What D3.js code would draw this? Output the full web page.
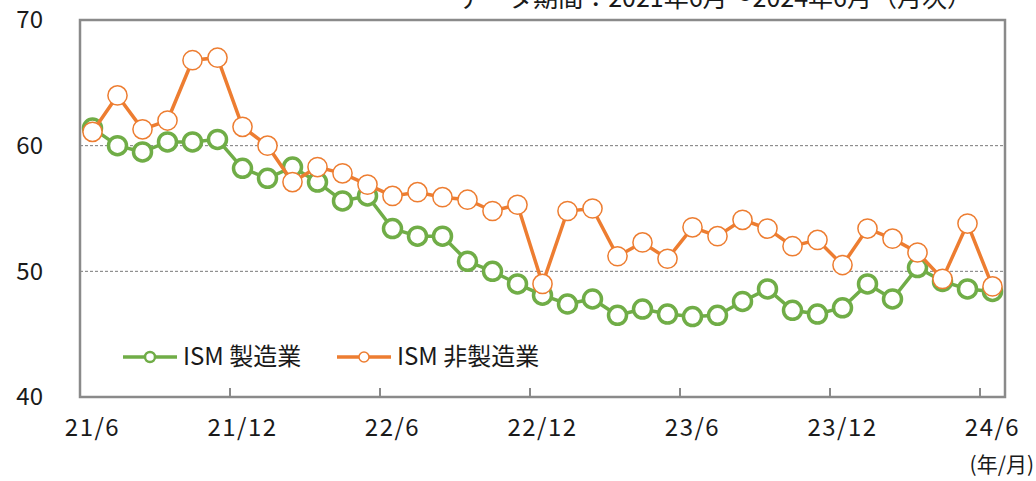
<!DOCTYPE html>
<html>
<head>
<meta charset="utf-8">
<script src="https://cdn.jsdelivr.net/npm/d3@7"></script>
<style>
  body { margin: 0; background: #fff; }
  text { font-family: "Noto Sans CJK JP", "Noto Sans", sans-serif; fill: #1a1a1a; }
</style>
</head>
<body>
<div id="chart"></div>
<script>
var months = [
  "21/6", "21/7", "21/8", "21/9", "21/10", "21/11", "21/12",
  "22/1", "22/2", "22/3", "22/4", "22/5", "22/6", "22/7", "22/8", "22/9", "22/10", "22/11", "22/12",
  "23/1", "23/2", "23/3", "23/4", "23/5", "23/6", "23/7", "23/8", "23/9", "23/10", "23/11", "23/12",
  "24/1", "24/2", "24/3", "24/4", "24/5", "24/6"
];
var tickLabels = ["21/6", "21/12", "22/6", "22/12", "23/6", "23/12", "24/6"];
var yTicks = [40, 50, 60, 70];
var gridValues = [50, 60];

// ISM 製造業
var manufacturing = [
  61.4, 60.0, 59.5, 60.3, 60.3, 60.5, 58.2, 57.4, 58.3, 57.1, 55.6, 56.0,
  53.4, 52.8, 52.8, 50.8, 50.0, 49.0, 48.1, 47.4, 47.8, 46.5, 47.0, 46.6,
  46.4, 46.5, 47.6, 48.6, 46.9, 46.6, 47.1, 49.0, 47.8, 50.3, 49.2, 48.6, 48.4
];
// ISM 非製造業
var services = [
  61.1, 64.0, 61.3, 62.0, 66.8, 67.0, 61.5, 60.0, 57.1, 58.3, 57.8, 56.9,
  56.0, 56.3, 55.9, 55.7, 54.8, 55.3, 49.0, 54.8, 55.0, 51.2, 52.3, 51.0,
  53.5, 52.8, 54.1, 53.4, 52.0, 52.5, 50.5, 53.4, 52.6, 51.5, 49.4, 53.8, 48.8
];

var width = 1036, height = 481;
var plot = { left: 80, right: 1005, top: 20, bottom: 397 };

var svg = d3
  .select("#chart")
  .append("svg")
  .attr("width", width)
  .attr("height", height);

var x = d3.scaleBand().domain(months).range([plot.left, plot.right]).padding(0);
var y = d3.scaleLinear().domain([40, 70]).range([plot.bottom, plot.top]);

// note at top (clipped by the page edge, as in the source)
svg
  .append("text")
  .attr("x", 972)
  .attr("y", 7)
  .attr("text-anchor", "end")
  .style("font-size", "25px")
  .text("データ期間：2021年6月～2024年6月（月次）");

// grid lines
svg
  .selectAll(".grid")
  .data(gridValues)
  .enter()
  .append("line")
  .attr("class", "grid")
  .attr("x1", plot.left)
  .attr("x2", plot.right)
  .attr("y1", (d) => y(d))
  .attr("y2", (d) => y(d))
  .style("stroke", "#7a7a7a")
  .style("stroke-width", 1)
  .style("stroke-dasharray", "3,2");

// y labels
var yAxis = d3.axisLeft(y).tickValues(yTicks).tickSize(0).tickPadding(37);
var gy = svg
  .append("g")
  .attr("transform", "translate(" + plot.left + ",0)")
  .call(yAxis);
gy.select(".domain").remove();
gy.selectAll("text")
  .style("font-size", "24px")
  .style("font-family", "'Noto Sans CJK JP', sans-serif")
  .attr("fill", "#1a1a1a");

// x labels at the month centres
var xAxis = d3.axisBottom(x).tickValues(tickLabels).tickSize(0).tickPadding(22);
var gx = svg
  .append("g")
  .attr("transform", "translate(0," + plot.bottom + ")")
  .call(xAxis);
gx.select(".domain").remove();
gx.selectAll("text")
  .style("font-size", "24px")
  .style("font-family", "'Noto Sans CJK JP', sans-serif")
  .style("letter-spacing", "1.5px")
  .attr("fill", "#1a1a1a");

// tick marks on the month boundaries
svg
  .selectAll(".tickmark")
  .data(tickLabels.slice(1))
  .enter()
  .append("line")
  .attr("class", "tickmark")
  .attr("x1", (d) => x(d))
  .attr("x2", (d) => x(d))
  .attr("y1", plot.bottom)
  .attr("y2", plot.bottom - 9)
  .style("stroke", "#8a8a8a")
  .style("stroke-width", 2);

svg
  .append("text")
  .attr("x", 1034)
  .attr("y", 472)
  .attr("text-anchor", "end")
  .style("font-size", "21px")
  .text("(年/月)");

// plot frame
svg
  .append("rect")
  .attr("x", plot.left)
  .attr("y", plot.top)
  .attr("width", plot.right - plot.left)
  .attr("height", plot.bottom - plot.top)
  .style("fill", "none")
  .style("stroke", "#8a8a8a")
  .style("stroke-width", 2.5);

var line = d3
  .line()
  .x((d, i) => x(months[i]) + x.bandwidth() / 2)
  .y((d) => y(d));

function drawSeries(values, color, markerStroke, r) {
  var g = svg.append("g");
  g.append("path")
    .datum(values)
    .attr("d", line)
    .style("fill", "none")
    .style("stroke", color)
    .style("stroke-width", 3.5);
  g.selectAll("circle")
    .data(values)
    .enter()
    .append("circle")
    .attr("cx", (d, i) => x(months[i]) + x.bandwidth() / 2)
    .attr("cy", (d) => y(d))
    .attr("r", r)
    .style("fill", "#fff")
    .style("stroke", color)
    .style("stroke-width", markerStroke);
}

drawSeries(manufacturing, "#70ad47", 3.5, 9);
drawSeries(services, "#ed7d31", 1.5, 9.6);

// legend
var legendItems = [
  { name: "ISM 製造業", color: "#70ad47", sw: 2.5, x: 123 },
  { name: "ISM 非製造業", color: "#ed7d31", sw: 1.5, x: 337 }
];
var legend = svg.append("g").attr("class", "legend");
legendItems.forEach(function (d) {
  legend
    .append("line")
    .attr("x1", d.x)
    .attr("x2", d.x + 54)
    .attr("y1", 357)
    .attr("y2", 357)
    .style("stroke", d.color)
    .style("stroke-width", 3.5);
  legend
    .append("circle")
    .attr("cx", d.x + 27)
    .attr("cy", 357)
    .attr("r", 5)
    .style("fill", "#fff")
    .style("stroke", d.color)
    .style("stroke-width", d.sw);
  legend
    .append("text")
    .attr("x", d.x + 60)
    .attr("y", 357)
    .attr("dy", "0.35em")
    .style("font-size", "24px")
    .text(d.name);
});
</script>
</body>
</html>
